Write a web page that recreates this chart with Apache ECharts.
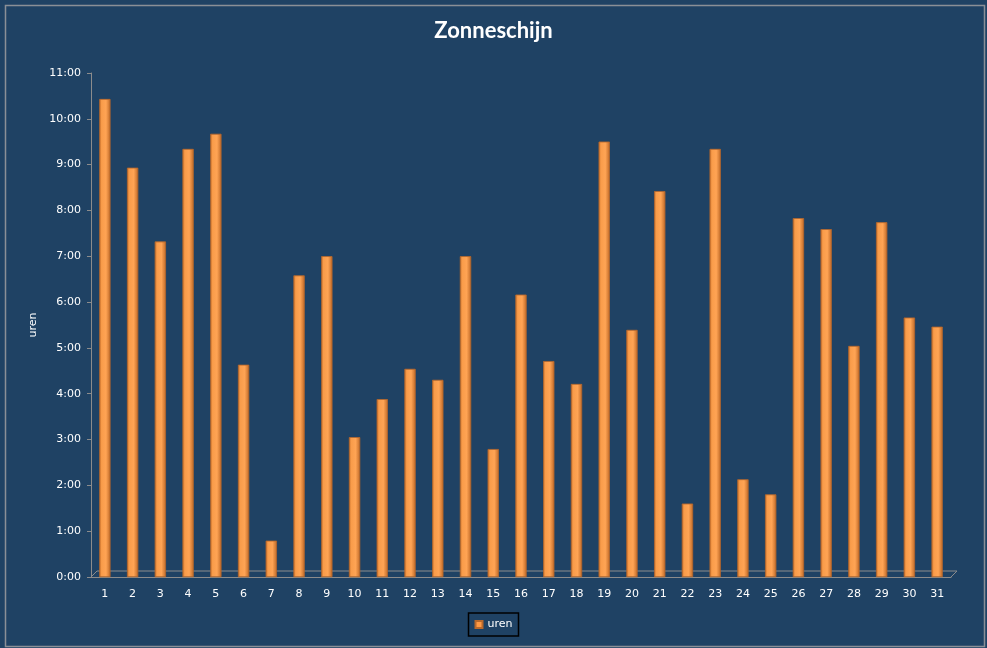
<!DOCTYPE html>
<html>
<head>
<meta charset="utf-8">
<title>Zonneschijn</title>
<script src="https://cdn.jsdelivr.net/npm/echarts@6/dist/echarts.min.js"></script>
<style>
  html, body { margin: 0; padding: 0; background: #1f4264; }
  #chart { width: 987px; height: 648px; }
</style>
</head>
<body>
<div id="chart"></div>
<script>
// dagen van de maand
const days = Array.from({ length: 31 }, (_, i) => String(i + 1));
// zonneschijn in uren (decimaal)
const uren = [
  10.43, 8.93, 7.32, 9.34, 9.67, 4.63, 0.79, 6.58, 7.0, 3.05,
  3.88, 4.54, 4.3, 7.0, 2.79, 6.16, 4.71, 4.21, 9.5, 5.39,
  8.42, 1.6, 9.34, 2.13, 1.8, 7.83, 7.59, 5.04, 7.74, 5.66, 5.46
];
const yMax = 11;

let myChart = echarts.init(document.getElementById("chart"));

myChart.setOption({
  backgroundColor: "#1f4264",
  animation: false,
  title: {
    text: "Zonneschijn",
    left: "center",
    top: 15,
    textStyle: {
      color: "#fff",
      fontSize: 22,
      fontWeight: "bold",
      fontFamily: "Lato",
    },
  },
  legend: {
    bottom: 12,
    left: "center",
    data: [{ name: "uren", itemStyle: { color: "#ff9a45" } }],
    itemWidth: 7,
    itemHeight: 7,
    itemGap: 4,
    padding: [6, 6, 6, 6],
    borderColor: "#000",
    borderWidth: 1.5,
    textStyle: { color: "#fff", fontSize: 11, fontFamily: "Verdana, DejaVu Sans" },
    icon: "rect",
  },
  grid: {
    left: 91,
    right: 36,
    top: 73,
    bottom: 71,
  },
  xAxis: {
    type: "category",
    data: days,
    axisLine: { lineStyle: { color: "#8c8c8c", width: 1 } },
    axisTick: { length: 4, lineStyle: { color: "#8c8c8c" } },
    axisLabel: {
      color: "#fff",
      fontSize: 11,
      fontFamily: "Verdana, DejaVu Sans",
      margin: 12,
      interval: 0,
    },
  },
  yAxis: {
    type: "value",
    name: "uren",
    nameLocation: "middle",
    nameGap: 48,
    nameRotate: 90,
    nameTextStyle: { color: "#fff", fontSize: 11, fontFamily: "Verdana, DejaVu Sans" },
    min: 0,
    max: yMax,
    interval: 1,
    axisLine: { show: true, lineStyle: { color: "#8c8c8c" } },
    axisTick: { show: true, length: 4, lineStyle: { color: "#8c8c8c" } },
    splitLine: { show: false },
    axisLabel: {
      color: "#fff",
      fontSize: 11,
      fontFamily: "Verdana, DejaVu Sans",
      margin: 10,
      formatter: (v) => v + ":00",
    },
  },
  series: [
    {
      name: "uren",
      type: "bar",
      data: uren,
      barWidth: 11,
      itemStyle: {
        color: new echarts.graphic.LinearGradient(0, 0, 1, 0, [
          { offset: 0, color: "#c9722c" },
          { offset: 0.2, color: "#f99c4a" },
          { offset: 0.6, color: "#ffa454" },
          { offset: 1, color: "#c06a28" },
        ]),
        borderColor: "#b8692c",
        borderWidth: 0.5,
      },
    },
  ],
});

// 3D-vloer en kader
const p0 = myChart.convertToPixel({ gridIndex: 0 }, ["1", 0]);
const g = myChart.getModel().getComponent("grid").coordinateSystem.getRect();
const d = 6;
myChart.setOption({
  graphic: [
    {
      type: "polyline",
      shape: {
        points: [
          [g.x, p0[1]],
          [g.x + d, p0[1] - d],
          [g.x + g.width + d, p0[1] - d],
          [g.x + g.width, p0[1]],
        ],
      },
      style: { stroke: "#8c8c8c", lineWidth: 1, fill: null },
      silent: true,
      z: -1,
    },
    {
      type: "rect",
      left: 3,
      top: 3,
      shape: { width: 979, height: 641 },
      style: { fill: null, stroke: "#8a8f96", lineWidth: 1.5 },
      silent: true,
    },
  ],
});
</script>
</body>
</html>
